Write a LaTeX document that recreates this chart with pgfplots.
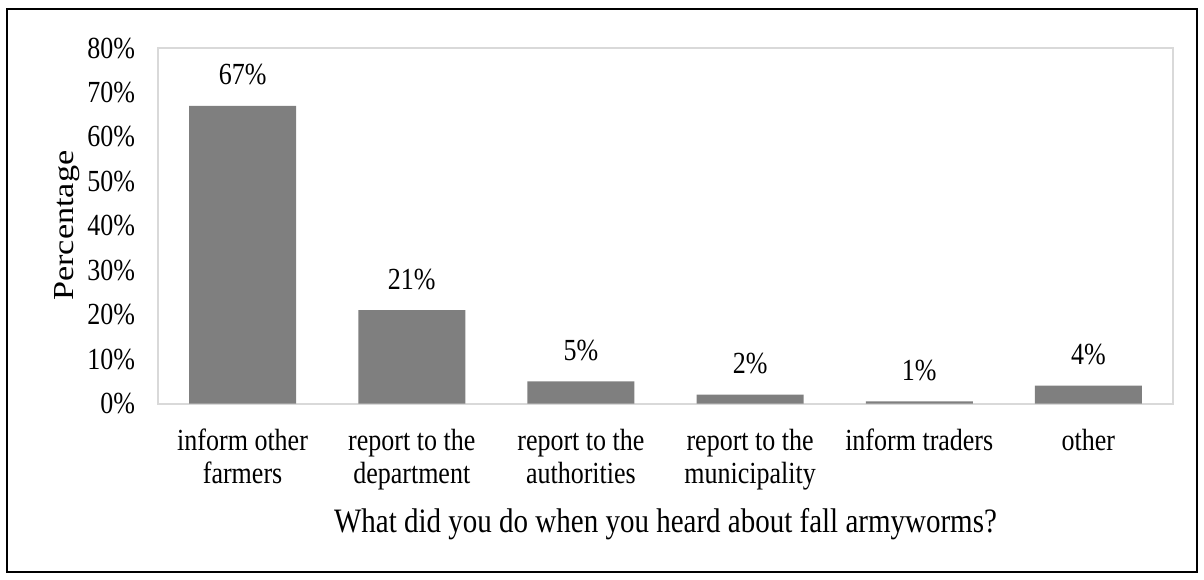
\documentclass[border=0pt]{standalone}
\usepackage{graphicx}
\usepackage{pgfplots}
\pgfplotsset{compat=1.18}
\usepackage{fontspec}
\setmainfont{Liberation Serif}
\definecolor{barg}{HTML}{7F7F7F}
\definecolor{frameg}{HTML}{D9D9D9}
\newcommand{\st}[1]{\scalebox{1}[1.18]{#1}}
\begin{document}
\fontsize{13pt}{15pt}\selectfont
\begin{tikzpicture}
\useasboundingbox (0,0) rectangle (602pt,289.5pt);
\draw[line width=1pt,black] (3.5pt,3.5pt) rectangle (598.5pt,285pt);
\begin{axis}[
  at={(79pt,87.75pt)}, anchor=south west,
  scale only axis, width=507.5pt, height=177.75pt,
  ymin=0, ymax=80, xmin=-0.5, xmax=5.5,
  ytick={0,10,...,80},
  yticklabel={\st{\pgfmathprintnumber{\tick}\%}},
  xtick=data,
  xticklabels={\st{inform other}\\\st{farmers}, \st{report to the}\\\st{department}, \st{report to the}\\\st{authorities}, \st{report to the}\\\st{municipality}, \st{inform traders}, \st{other}},
  xticklabel style={align=center, anchor=north, font=\fontsize{13pt}{16.5pt}\selectfont, yshift=-8.4pt},
  yticklabel style={xshift=-7pt, font=\fontsize{13pt}{15pt}\selectfont},
  major tick length=0pt,
  axis line style={frameg, line width=1pt},
  every axis y label/.style={at={(axis description cs:-0.0837,0.5)},rotate=90,anchor=base, font=\fontsize{14.5pt}{17pt}\selectfont},
  ylabel={\scalebox{1.18}[1]{Percentage}},
  every axis x label/.style={at={(axis description cs:0.5,0)},anchor=north,yshift=-47.7pt, font=\fontsize{14.5pt}{17pt}\selectfont},
  xlabel={\st{What did you do when you heard about fall armyworms?}},
  ybar, bar width=53.5pt,
  /pgf/number format/assume math mode=true,
  nodes near coords,
  point meta=explicit symbolic,
  every node near coord/.append style={yshift=5.7pt, font=\fontsize{13pt}{15pt}\selectfont},
]
\addplot[fill=barg, draw=none] coordinates {
  (0,67) [\st{67\%}]
  (1,21) [\st{21\%}]
  (2,5) [\st{5\%}]
  (3,2) [\st{2\%}]
  (4,0.5) [\st{1\%}]
  (5,4) [\st{4\%}]
};
\end{axis}
\end{tikzpicture}
\end{document}
